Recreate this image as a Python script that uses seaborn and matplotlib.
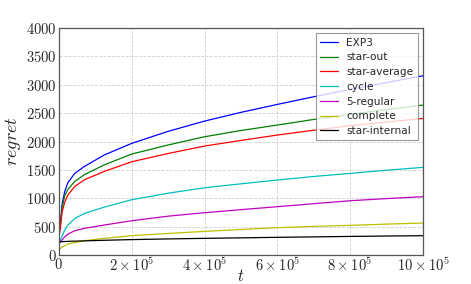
import pandas as pd
import seaborn as sns
import matplotlib
matplotlib.use("Agg")
import matplotlib.pyplot as plt
from matplotlib.ticker import FixedLocator, FixedFormatter

# regret curves
t = [0, 1e3, 4.5e3, 9e3, 1.6e4, 2.5e4, 4.4e4, 7.1e4, 1.25e5, 2e5, 3e5, 4e5,
     5e5, 6e5, 7e5, 8e5, 9e5, 1e6]
exp3 = [150, 400, 600, 900, 1120, 1280, 1441, 1565, 1765, 1968, 2180, 2361,
        2515, 2655, 2790, 2920, 3040, 3160]
star_out = [150, 380, 560, 840, 1040, 1160, 1300, 1420, 1590, 1780, 1940, 2085,
            2195, 2291, 2390, 2480, 2565, 2643]
star_average = [150, 350, 500, 760, 930, 1060, 1210, 1330, 1475, 1644, 1790, 1921,
                2020, 2115, 2200, 2280, 2345, 2408]
cycle = [150, 220, 270, 330, 440, 530, 647, 735, 845, 975, 1090, 1186,
         1255, 1322, 1385, 1439, 1495, 1545]
regular5 = [150, 200, 230, 265, 320, 370, 429, 471, 529, 605, 685, 746,
            800, 852, 905, 957, 995, 1028]
complete = [70, 100, 118, 140, 165, 194, 220, 253, 294, 341, 380, 417,
            450, 482, 505, 523, 545, 564]
star_internal = [200, 230, 234, 236, 238, 241, 245, 250, 260, 272, 284, 294,
                 303, 312, 320, 328, 335, 341]

names = ["EXP3", "star-out", "star-average", "cycle", "5-regular", "complete", "star-internal"]
series = [exp3, star_out, star_average, cycle, regular5, complete, star_internal]
colors = ["#0000ff", "#008000", "#ff0000", "#00bfbf", "#bf00bf", "#bfbf00", "#000000"]

xticks = [0, 2e5, 4e5, 6e5, 8e5, 1e6]
xticklabels = ["$0$", r"$2\times10^{5}$", r"$4\times10^{5}$", r"$6\times10^{5}$",
               r"$8\times10^{5}$", r"$10\times10^{5}$"]
yticks = list(range(0, 4001, 500))

rows = []
for name, vals in zip(names, series):
    for tt, v in zip(t, vals):
        rows.append({"t": tt, "regret": v, "graph": name})
df = pd.DataFrame(rows)

sns.set_theme(style="white")
plt.rcParams["mathtext.fontset"] = "cm"
plt.rcParams["font.family"] = ["DejaVu Sans"]

fig = plt.figure(figsize=(4.71, 2.84), dpi=100)
ax = fig.add_axes([0.125, 0.102, 0.773, 0.799])

sns.lineplot(data=df, x="t", y="regret", hue="graph", hue_order=names,
             palette=colors, linewidth=0.9, ax=ax)

ax.set_xlim(0, 1e6)
ax.set_ylim(0, 4000)
ax.xaxis.set_major_locator(FixedLocator(xticks))
ax.xaxis.set_major_formatter(FixedFormatter(xticklabels))
ax.set_yticks(yticks)
ax.set_yticklabels([f"${v}$" for v in yticks])
ax.tick_params(axis="both", labelsize=10.5, length=0)
ax.tick_params(axis="x", pad=1.5)
ax.tick_params(axis="y", pad=1.5)
ax.grid(True, color="#d0d0d0", linestyle="--", linewidth=0.6)
for s in ax.spines.values():
    s.set_color("#555555")
    s.set_linewidth(0.9)

ax.set_xlabel("$t$", fontsize=12, labelpad=-5)
ax.set_ylabel("$regret$", fontsize=13, labelpad=2)

leg = ax.legend(loc="upper right", fontsize=7.6, frameon=True, fancybox=False,
                handlelength=1.7, borderaxespad=0.5, labelspacing=0.45)
leg.get_frame().set_edgecolor("#808080")
leg.get_frame().set_linewidth(0.8)

fig.savefig("out.png", dpi=100)
